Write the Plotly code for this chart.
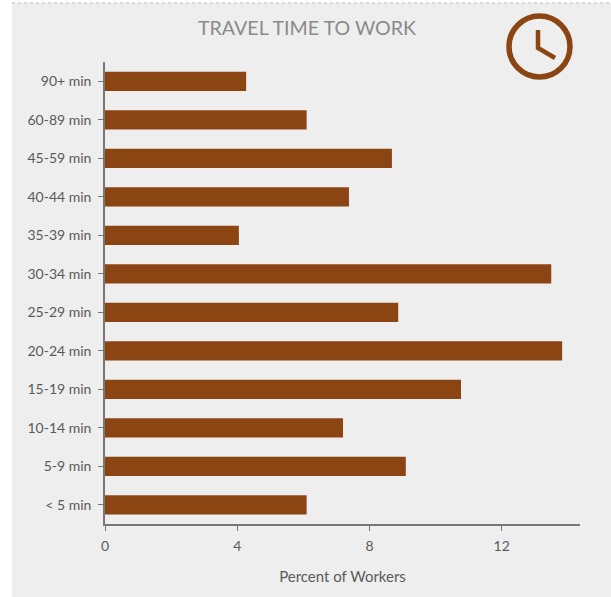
import plotly.graph_objects as go

# Commute bands, listed bottom to top, with the share of workers in each
categories = ["< 5 min", "5-9 min", "10-14 min", "15-19 min", "20-24 min", "25-29 min",
              "30-34 min", "35-39 min", "40-44 min", "45-59 min", "60-89 min", "90+ min"]
percent_workers = [6.1, 9.1, 7.2, 10.77, 13.83, 8.87, 13.5, 4.05, 7.38, 8.68, 6.1, 4.27]
x_ticks = [0, 4, 8, 12]

W, H = 611, 597
L, R, T, B = 105, 31, 62, 73
BAR = "#8b4513"
AXIS = "#777777"
TEXT = "#5a5a5a"
FONT = "Lato"


def px(x):
    return (x - L) / (W - L - R)


def py(y):
    return 1 - (y - T) / (H - T - B)


fig = go.Figure(go.Bar(
    x=percent_workers, y=categories, orientation="h",
    width=0.5, marker=dict(color=BAR, line_width=0), hoverinfo="x+y",
))

shapes = [
    # Light panel behind the chart with its dotted upper edge
    dict(type="rect", layer="below", xref="paper", yref="paper",
         x0=px(12), x1=px(611), y0=py(597), y1=py(3),
         fillcolor="#eeeeee", line_width=0),
    dict(type="line", layer="below", xref="paper", yref="paper",
         x0=px(12), x1=px(611), y0=py(3), y1=py(3),
         line=dict(color="#d0d0d0", width=1.5, dash="dot")),
    # Clock badge: ring and two hands
    dict(type="circle", xref="paper", yref="paper",
         x0=px(509), x1=px(570), y0=py(77), y1=py(16),
         line=dict(color=BAR, width=5.5), fillcolor="rgba(0,0,0,0)"),
    dict(type="path", xref="paper", yref="paper",
         path=f"M {px(538)} {py(30)} L {px(538)} {py(48)} L {px(555)} {py(58)}",
         line=dict(color=BAR, width=4.5), fillcolor="rgba(0,0,0,0)"),
]

fig.update_layout(
    width=W, height=H,
    margin=dict(l=L, r=R, t=T, b=B, pad=0),
    paper_bgcolor="white", plot_bgcolor="rgba(0,0,0,0)",
    font=dict(family=FONT, color=TEXT, size=14),
    showlegend=False, shapes=shapes,
    title=dict(text="TRAVEL TIME TO WORK", xref="container", yref="container",
               x=307 / W, xanchor="center", y=1 - 28 / H, yanchor="middle",
               font=dict(family=FONT, size=19.6, color="#8a8a8a")),
    xaxis=dict(range=[0, 14.37], tickvals=x_ticks, showgrid=False, zeroline=False,
               showline=True, linecolor=AXIS, linewidth=1.5,
               ticks="outside", ticklen=5, tickwidth=1, tickcolor=AXIS,
               ticklabelstandoff=3, tickfont=dict(size=14, color=TEXT),
               title=dict(text="Percent of Workers", standoff=19,
                          font=dict(size=15, color=TEXT))),
    yaxis=dict(categoryorder="array", categoryarray=categories, showgrid=False,
               zeroline=False, showline=True, linecolor=AXIS, linewidth=1.5,
               ticks="outside", ticklen=5, tickwidth=1, tickcolor=AXIS,
               ticklabelstandoff=4, tickfont=dict(size=14, color=TEXT)),
)

fig.write_html("out.html")
